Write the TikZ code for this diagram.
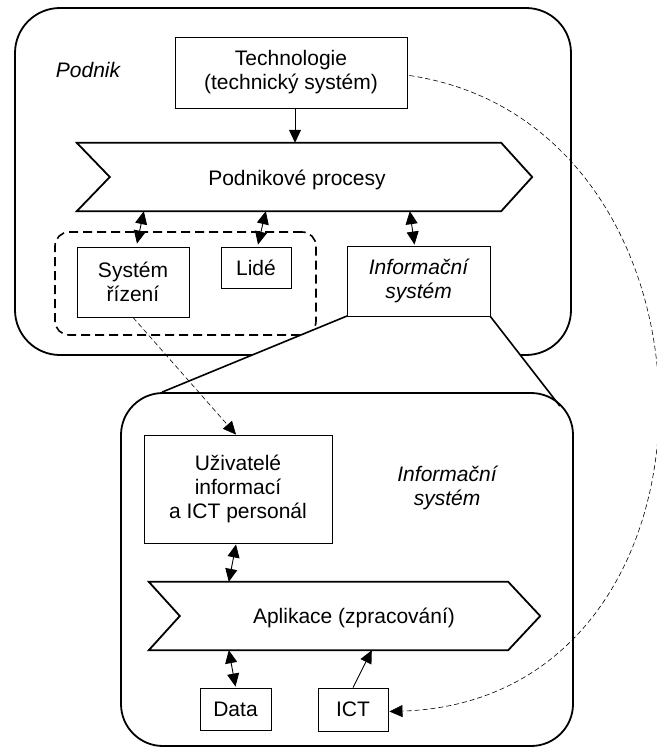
\documentclass[tikz,border=0pt]{standalone}
\usepackage{fontspec}
\setmainfont{Liberation Sans}
\usetikzlibrary{arrows.meta,calc}
\pgfdeclarelayer{back}
\pgfdeclarelayer{mid}
\pgfsetlayers{back,mid,main}
\begin{document}
\begin{tikzpicture}[x=1pt,y=-1pt,
  font=\fontsize{21}{24}\selectfont,
  outer/.style={draw,line width=1.8pt,rounded corners=#1,inner sep=0pt},
  box/.style={draw,line width=0.9pt,inner sep=0pt,align=center},
  body/.style={inner sep=0pt},
  chev/.style={line width=1.8pt,line join=miter},
  tipend/.style={-{Triangle[length=13pt,width=12pt]}},
  dtip/.style={{Triangle[length=13pt,width=12pt]}-{Triangle[length=13pt,width=12pt]}},
  conn/.style={line width=0.9pt},
  faintdash/.style={line width=0.6pt,dash pattern=on 5pt off 3pt},
  grpbox/.style={draw,line width=1.6pt,dash pattern=on 9pt off 5pt,rounded corners=14pt,inner sep=0pt},
  lbl/.style={font=\fontsize{21}{24}\selectfont\itshape,align=center}
]
\useasboundingbox (0,0) rectangle (656,749);

% enterprise frame and the management group
\begin{pgfonlayer}{back}
  \node[outer=45pt,minimum width=556pt,minimum height=347pt] (podnik) at (293,181.5) {};
  \node[grpbox,minimum width=261pt,minimum height=103pt] (grp) at (185.5,283.5) {};
\end{pgfonlayer}

\node[lbl] (podniklbl) at (88,70) {Podnik};

% technology
\node[box,minimum width=232pt,minimum height=71pt] (tech) at (291,72.5)
  {Technologie\\(technický systém)};

% business processes chevron
\node[body,minimum width=424pt,minimum height=68pt] (proc) at (289,177) {};
\draw[chev] (proc.north west) -- (proc.north east) -- ($(proc.east)+(31,0)$)
  -- (proc.south east) -- (proc.south west) -- ($(proc.west)+(33,0)$) -- cycle;
\node (proctxt) at (297,180) {Podnikové procesy};

% lower boxes of the enterprise
\node[box,minimum width=112pt,minimum height=70pt] (sys) at (133,282) {Systém\\řízení};
\node[box,minimum width=70pt,minimum height=41pt] (lide) at (256,267.5) {Lidé};

% detail box of the information system
\node[outer=42pt,minimum width=452pt,minimum height=353pt] (box2) at (347,569.5) {};

% magnifying cone
\coordinate (cl) at ($(box2.north west)+(42,0)$);
\coordinate (cr) at ($(box2.north east)+(-14,14)$);
\coordinate (infsw) at (347,316);
\coordinate (infse) at (490,316);
\begin{pgfonlayer}{mid}
  \fill[white] (infsw) -- (infse) -- (cr) -- (cl) -- cycle;
  \draw[line width=1.6pt] (infsw) -- (cl) (infse) -- (cr);
\end{pgfonlayer}

\node[box,font=\fontsize{21}{24}\selectfont\itshape,minimum width=143pt,minimum height=70pt,fill=white]
  (inf) at (418.5,281) {Informační\\systém};

% inside the information system
\node[box,minimum width=188pt,minimum height=108pt] (uziv) at (238,489)
  {Uživatelé\\informací\\a ICT personál};
\node[lbl] (inflbl) at (447,488) {Informační\\systém};

\node[body,minimum width=359pt,minimum height=68pt] (app) at (328.5,616) {};
\draw[chev] (app.north west) -- (app.north east) -- ($(app.east)+(32,0)$)
  -- (app.south east) -- (app.south west) -- ($(app.west)+(31,0)$) -- cycle;
\node (apptxt) at (354,618) {Aplikace (zpracování)};

\node[box,minimum width=71pt,minimum height=42pt] (data) at (235.5,709) {Data};
\node[box,minimum width=70pt,minimum height=43pt] (ict) at (353,709.5) {ICT};

% connectors
\draw[conn,tipend] ($(tech.south)+(4,0)$) -- ($(tech.south |- proc.north)+(4,0)$);
\draw[conn,dtip] ($(proc.south west)+(67,0)$) -- ($(sys.north)+(4,-3)$);
\draw[conn,dtip] ($(proc.south west)+(189,0)$) -- ($(lide.north)+(2,-2)$);
\draw[conn,dtip] ($(proc.south west)+(333,0)$) -- ($(inf.north)+(-4,-1)$);
\draw[conn,dtip] ($(uziv.south)+(-2,1)$) -- ($(app.north west)+(80,0)$);
\draw[conn,dtip] ($(app.south west)+(80,0)$) -- ($(data.north)+(0,-1)$);
\draw[conn,tipend] (ict.north) -- ($(app.south west)+(223,0)$);

\draw[faintdash,tipend] (sys.south) -- ($(uziv.north)+(-2,0)$);
\draw[faintdash,tipend] ($(tech.east)+(2,3)$) .. controls (742,125) and (745,700) .. ($(ict.east)+(1,2)$);
\end{tikzpicture}
\end{document}
